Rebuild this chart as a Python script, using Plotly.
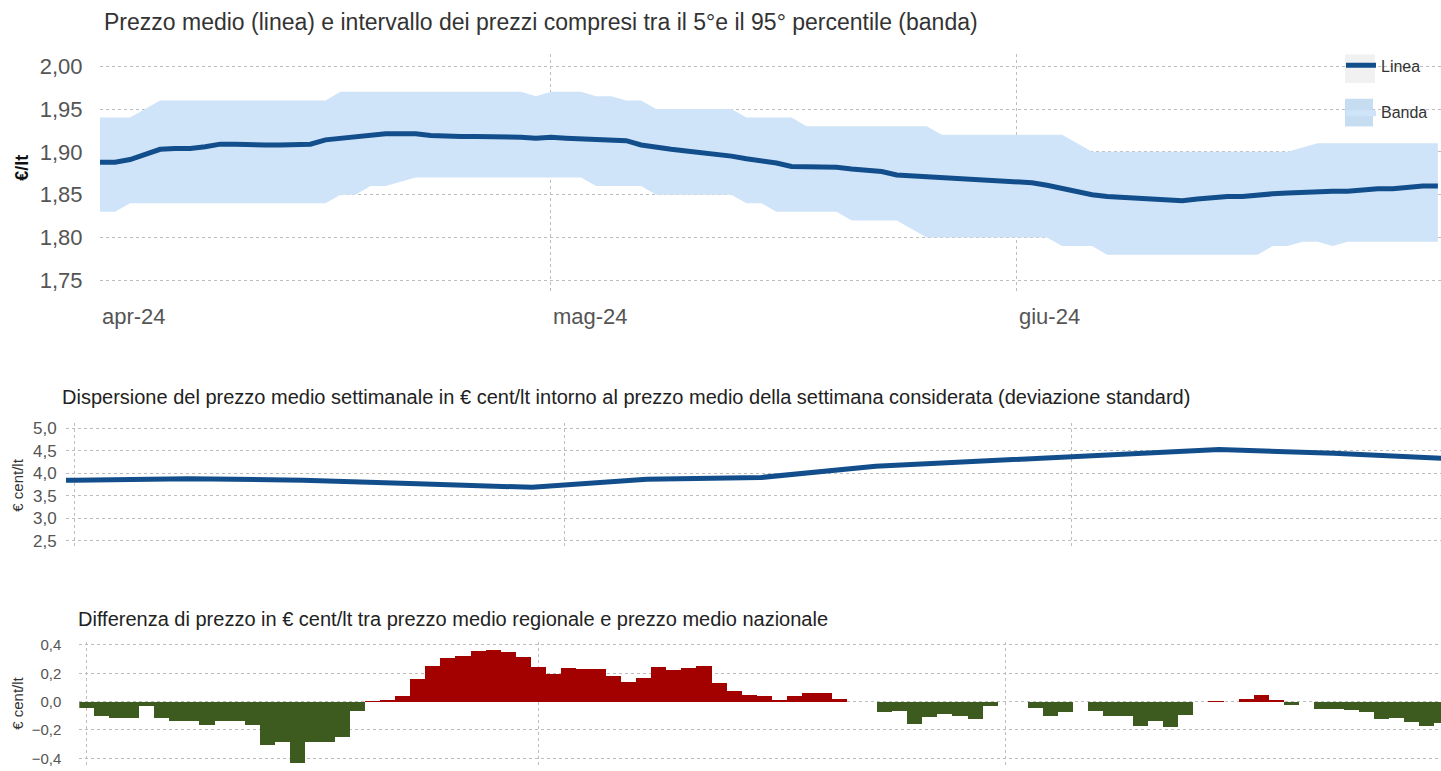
import pandas as pd
import plotly.graph_objects as go

W, H = 1441, 771

# ---------------- data ----------------
price_dates = pd.date_range("2024-04-01", "2024-06-29", freq="D")
price_mean = [
    1.888, 1.888, 1.891, 1.897, 1.903, 1.904, 1.904, 1.906, 1.909, 1.909,
    1.908, 1.908, 1.908, 1.909, 1.909, 1.914, 1.916, 1.918, 1.920, 1.921,
    1.921, 1.921, 1.919, 1.918, 1.918, 1.918, 1.918, 1.918, 1.917, 1.916,
    1.917, 1.916, 1.915, 1.914, 1.914, 1.913, 1.908, 1.905, 1.903, 1.901,
    1.899, 1.898, 1.895, 1.892, 1.890, 1.887, 1.883, 1.883, 1.883, 1.882,
    1.880, 1.878, 1.877, 1.873, 1.872, 1.871, 1.870, 1.869, 1.867, 1.867,
    1.866,
    1.865, 1.864, 1.861, 1.857, 1.854, 1.850, 1.848, 1.847, 1.846, 1.844,
    1.843, 1.843, 1.845, 1.847, 1.848, 1.848, 1.850, 1.851, 1.852, 1.853,
    1.854, 1.854, 1.854, 1.856, 1.857, 1.857, 1.859, 1.860, 1.860,
]
band_upper = [
    1.94, 1.94, 1.94, 1.95, 1.96, 1.96, 1.96, 1.96, 1.96, 1.96,
    1.96, 1.96, 1.96, 1.96, 1.96, 1.96, 1.97, 1.97, 1.97, 1.97,
    1.97, 1.97, 1.97, 1.97, 1.97, 1.97, 1.97, 1.97, 1.97, 1.965,
    1.97, 1.97, 1.97, 1.965, 1.965, 1.96, 1.96, 1.95, 1.95, 1.95,
    1.95, 1.95, 1.95, 1.94, 1.94, 1.94, 1.94, 1.93, 1.93, 1.93,
    1.93, 1.93, 1.93, 1.93, 1.93, 1.93, 1.92, 1.92, 1.92, 1.92,
    1.92,
    1.92, 1.92, 1.92, 1.92, 1.91, 1.90, 1.90, 1.90, 1.90, 1.90,
    1.90, 1.90, 1.90, 1.90, 1.90, 1.90, 1.90, 1.90, 1.90, 1.905,
    1.91, 1.91, 1.91, 1.91, 1.91, 1.91, 1.91, 1.91, 1.91,
]
band_lower = [
    1.83, 1.83, 1.84, 1.84, 1.84, 1.84, 1.84, 1.84, 1.84, 1.84,
    1.84, 1.84, 1.84, 1.84, 1.84, 1.84, 1.85, 1.85, 1.86, 1.86,
    1.865, 1.87, 1.87, 1.87, 1.87, 1.87, 1.87, 1.87, 1.87, 1.87,
    1.87, 1.87, 1.87, 1.86, 1.86, 1.86, 1.86, 1.85, 1.85, 1.85,
    1.85, 1.85, 1.85, 1.84, 1.84, 1.83, 1.83, 1.83, 1.83, 1.83,
    1.82, 1.82, 1.82, 1.82, 1.81, 1.80, 1.80, 1.80, 1.80, 1.80,
    1.80,
    1.80, 1.80, 1.80, 1.79, 1.79, 1.79, 1.78, 1.78, 1.78, 1.78,
    1.78, 1.78, 1.78, 1.78, 1.78, 1.78, 1.78, 1.79, 1.79, 1.795,
    1.795, 1.79, 1.795, 1.795, 1.795, 1.795, 1.795, 1.795, 1.795,
]

disp_dates = pd.date_range("2024-03-25", "2024-06-24", freq="7D")
disp_values = [3.85, 3.85, 3.88, 3.85, 3.77, 3.69, 3.87, 3.91, 4.16,
               4.28, 4.41, 4.53, 4.45, 4.33]

diff_dates = pd.date_range("2024-04-01", "2024-06-30", freq="D")
diff_values = [
    -0.045, -0.10, -0.11, -0.115, -0.025, -0.11, -0.135, -0.135, -0.16, -0.135,
    -0.135, -0.165, -0.30, -0.28, -0.43, -0.285, -0.28, -0.245, -0.065, 0.004,
    0.01, 0.045, 0.16, 0.255, 0.31, 0.325, 0.36, 0.365, 0.355, 0.32,
    0.25, 0.195, 0.24, 0.23, 0.23, 0.185, 0.14, 0.17, 0.245, 0.225,
    0.24, 0.255, 0.135, 0.075, 0.052, 0.042, 0.008, 0.045, 0.062, 0.062,
    0.02, 0.0, 0.0, -0.07, -0.066, -0.155, -0.105, -0.088, -0.10, -0.12,
    -0.03,
    0.0, 0.0, -0.043, -0.098, -0.068, 0.0, -0.062, -0.10, -0.097, -0.167,
    -0.133, -0.176, -0.092, 0.0, 0.006, 0.0, 0.024, 0.052, 0.014, -0.019,
    0.0, -0.048, -0.048, -0.057, -0.071, -0.117, -0.112, -0.138, -0.171, -0.15,
]

month_ticks = ["2024-04-01", "2024-05-01", "2024-06-01"]
month_labels = ["apr-24", "mag-24", "giu-24"]

title_top = "Prezzo medio (linea) e intervallo dei prezzi compresi tra il 5°e il 95° percentile (banda)"
title_mid = "Dispersione del prezzo medio settimanale in € cent/lt intorno al prezzo medio della settimana considerata (deviazione standard)"
title_bot = "Differenza di prezzo in € cent/lt tra prezzo medio regionale e prezzo medio nazionale"

# ---------------- styling ----------------
BLUE = "#134e8c"
BAND = "#cfe4f8"
RED = "#a30000"
GREEN = "#3d5a1f"
GRID = "#bdbdbd"
FONT = "Liberation Sans, Arial, sans-serif"


def dx(a, b):
    return [a / W, b / W]


def dy(top, bottom):
    return [1 - bottom / H, 1 - top / H]


fig = go.Figure()

# top chart
fig.add_trace(go.Scatter(x=price_dates, y=band_upper, mode="lines",
                         line=dict(width=0, color=BAND), showlegend=False,
                         xaxis="x", yaxis="y", hoverinfo="skip"))
fig.add_trace(go.Scatter(x=price_dates, y=band_lower, mode="lines", fill="tonexty",
                         fillcolor=BAND, line=dict(width=0, color=BAND),
                         name="Banda", legendrank=2, legendgroup="b",
                         xaxis="x", yaxis="y"))
fig.add_trace(go.Scatter(x=price_dates, y=price_mean, mode="lines",
                         line=dict(width=5, color=BLUE), name="Linea",
                         legendrank=1, legendgroup="a",
                         xaxis="x", yaxis="y"))

# middle chart
fig.add_trace(go.Scatter(x=disp_dates, y=disp_values, mode="lines",
                         line=dict(width=5, color=BLUE), showlegend=False,
                         xaxis="x2", yaxis="y2"))

# bottom chart
fig.add_trace(go.Bar(x=diff_dates, y=diff_values,
                     marker=dict(color=[RED if v > 0 else GREEN for v in diff_values],
                                 line=dict(width=0)),
                     showlegend=False, xaxis="x3", yaxis="y3"))

grid_common = dict(showgrid=True, gridcolor=GRID, griddash="dot", gridwidth=1,
                   zeroline=False, showline=False)

fig.update_layout(
    width=W, height=H,
    margin=dict(l=0, r=0, t=0, b=0),
    paper_bgcolor="white", plot_bgcolor="white",
    separators=",.",
    bargap=0,
    showlegend=True,
    legend=dict(x=1341 / W, y=1 - 44 / H, xanchor="left", yanchor="top",
                font=dict(family=FONT, size=16, color="#333333"),
                bgcolor="rgba(0,0,0,0)", traceorder="grouped",
                tracegroupgap=23, itemwidth=30),
    shapes=[
        dict(type="rect", xref="paper", yref="paper",
             x0=1345 / W, x1=1375 / W, y0=1 - 79 / H, y1=1 - 50 / H,
             fillcolor="#f1f1f1", line=dict(width=0), layer="above"),
        dict(type="rect", xref="paper", yref="paper",
             x0=1345 / W, x1=1373 / W, y0=1 - 123 / H, y1=1 - 95 / H,
             fillcolor="#c6dcf1", line=dict(width=0), layer="above"),
    ],
    xaxis=dict(domain=dx(100, 1441), anchor="y", type="date",
               range=["2024-04-01", "2024-06-29 05:00"],
               tickvals=month_ticks, showticklabels=False, ticks="",
               **grid_common),
    yaxis=dict(domain=dy(50, 290), anchor="x", range=[1.7373, 2.0138],
               tickvals=[1.75, 1.80, 1.85, 1.90, 1.95, 2.00], tickformat=".2f",
               ticks="outside", ticklen=12, tickcolor="rgba(0,0,0,0)",
               tickfont=dict(family=FONT, size=22, color="#555555"),
               **grid_common),
    xaxis2=dict(domain=dx(66, 1441), anchor="y2", type="date",
                range=["2024-03-31 12:00", "2024-06-23 13:40"],
                tickvals=month_ticks, showticklabels=False, ticks="",
                **grid_common),
    yaxis2=dict(domain=dy(423, 548), anchor="x2", range=[2.39, 5.13],
                tickvals=[2.5, 3.0, 3.5, 4.0, 4.5, 5.0], tickformat=".1f",
                ticks="outside", ticklen=5, tickcolor="rgba(0,0,0,0)",
                tickfont=dict(family=FONT, size=17, color="#555555"),
                **grid_common),
    xaxis3=dict(domain=dx(79.3, 1441), anchor="y3", type="date",
                range=["2024-03-31 12:00", "2024-06-29 22:05"],
                tickvals=month_ticks, showticklabels=False, ticks="",
                **grid_common),
    yaxis3=dict(domain=dy(645, 771), anchor="x3", range=[-0.454, 0.423],
                tickvals=[-0.4, -0.2, 0.0, 0.2, 0.4], tickformat=".1f",
                ticks="outside", ticklen=14, tickcolor="rgba(0,0,0,0)",
                tickfont=dict(family=FONT, size=15, color="#555555"),
                **grid_common),
)

annotations = [
    dict(text=title_top, x=102 / W, y=1 - 17 / H, xref="paper", yref="paper",
         xanchor="left", yanchor="middle", showarrow=False,
         font=dict(family=FONT, size=23, color="#333333")),
    dict(text=title_mid, x=60 / W, y=1 - 397 / H, xref="paper", yref="paper",
         xanchor="left", yanchor="middle", showarrow=False,
         font=dict(family=FONT, size=20, color="#222222")),
    dict(text=title_bot, x=76 / W, y=1 - 622 / H, xref="paper", yref="paper",
         xanchor="left", yanchor="middle", showarrow=False,
         font=dict(family=FONT, size=20, color="#222222")),
    dict(text="<b>€/lt</b>", x=22 / W, y=1 - 165 / H, xref="paper", yref="paper",
         xanchor="center", yanchor="middle", showarrow=False, textangle=-90,
         font=dict(family=FONT, size=18, color="#111111")),
    dict(text="€ cent/lt", x=18 / W, y=1 - 487 / H, xref="paper", yref="paper",
         xanchor="center", yanchor="middle", showarrow=False, textangle=-90,
         font=dict(family=FONT, size=15, color="#333333")),
    dict(text="€ cent/lt", x=18 / W, y=1 - 708 / H, xref="paper", yref="paper",
         xanchor="center", yanchor="middle", showarrow=False, textangle=-90,
         font=dict(family=FONT, size=15, color="#333333")),
]
for d, lab in zip(month_ticks, month_labels):
    annotations.append(dict(text=lab, x=d, y=1 - 316 / H, xref="x", yref="paper",
                            xanchor="left", yanchor="middle", showarrow=False,
                            xshift=0,
                            font=dict(family=FONT, size=22, color="#555555")))
fig.update_layout(annotations=annotations)

fig.write_html("out.html",
               config={"displayModeBar": False},
               post_script="document.body.style.margin='0';"
                           "document.body.style.overflow='hidden';")
